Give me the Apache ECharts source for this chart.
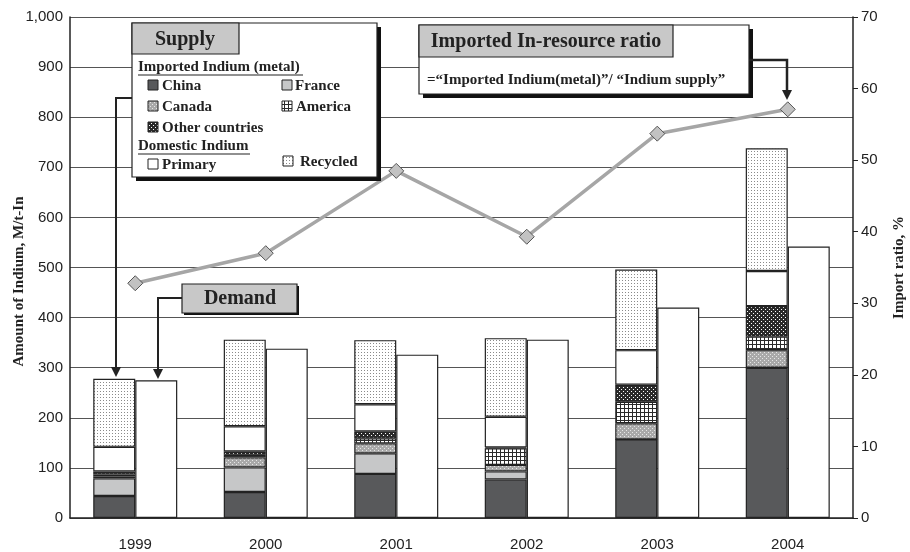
<!DOCTYPE html>
<html>
<head>
<meta charset="utf-8">
<script src="https://cdn.jsdelivr.net/npm/echarts@6/dist/echarts.min.js"></script>
<style>
html, body { margin: 0; padding: 0; background: #fff; }
#chart { width: 910px; height: 552px; }
</style>
</head>
<body>
<div id="chart"></div>
<script>
// values (M/t-In and %)
var years = ['1999', '2000', '2001', '2002', '2003', '2004'];
var china = [44, 52, 88, 77, 157, 300];
var france = [35, 49, 41, 16, 0, 0];
var canada = [4, 20, 20, 13, 32, 35];
var america = [4, 5, 10, 33, 43, 27];
var others = [6, 7, 14, 2, 34, 61];
var primary = [49, 50, 54, 61, 69, 70];
var recycled = [136, 173, 128, 157, 161, 245];
var demand = [275, 338, 326, 356, 420, 542];
var importRatio = [32.8, 37.0, 48.5, 39.3, 53.7, 57.1];

var SERIF = '"Liberation Serif", "DejaVu Serif", serif';
var SANS = '"Liberation Sans", Arial, sans-serif';

// small canvas tiles for the hatched fills
function tile(w, h, paint) {
    var c = document.createElement('canvas');
    c.width = w; c.height = h;
    paint(c.getContext('2d'));
    return {image: c, repeat: 'repeat'};
}
var fills = {
    china: '#58595b',
    france: '#c6c7c8',
    canada: tile(4, 4, function (g) {
        g.fillStyle = '#a9a9a9'; g.fillRect(0, 0, 4, 4);
        g.fillStyle = '#e6e6e6'; g.fillRect(0, 0, 1, 1); g.fillRect(2, 2, 1, 1);
    }),
    america: tile(4, 4, function (g) {
        g.fillStyle = '#fff'; g.fillRect(0, 0, 4, 4);
        g.fillStyle = '#2a2a2a'; g.fillRect(0, 0, 4, 1); g.fillRect(0, 0, 1, 4);
    }),
    others: tile(4, 4, function (g) {
        g.fillStyle = '#2a2a2a'; g.fillRect(0, 0, 4, 4);
        g.fillStyle = '#fff'; g.fillRect(1, 1, 1, 1); g.fillRect(3, 3, 1, 1);
    }),
    primary: '#ffffff',
    recycled: tile(3, 3, function (g) {
        g.fillStyle = '#fff'; g.fillRect(0, 0, 3, 3);
        g.fillStyle = '#8a8a8a'; g.fillRect(1, 1, 1, 1);
    })
};

function supplyBar(name, data, fill) {
    return {
        name: name, type: 'bar', stack: 'supply', data: data,
        barWidth: 42, barGap: 0,
        itemStyle: {color: fill, borderColor: '#222', borderWidth: 1.2}
    };
}

var series = [
    supplyBar('China', china, fills.china),
    supplyBar('France', france, fills.france),
    supplyBar('Canada', canada, fills.canada),
    supplyBar('America', america, fills.america),
    supplyBar('Other countries', others, fills.others),
    supplyBar('Primary', primary, fills.primary),
    supplyBar('Recycled', recycled, fills.recycled),
    {
        name: 'Demand', type: 'bar', data: demand, barWidth: 42, barGap: 0,
        itemStyle: {color: '#fff', borderColor: '#222', borderWidth: 1.2}
    },
    {
        name: 'Import ratio', type: 'line', yAxisIndex: 1, data: importRatio, z: 5,
        symbol: 'diamond', symbolSize: 15,
        lineStyle: {color: '#a6a6a6', width: 3.5},
        itemStyle: {color: '#c2c2c2', borderColor: '#555', borderWidth: 1}
    }
];

// annotation boxes, legend and arrows
function txt(x, y, s, size, align) {
    return {type: 'text', z: 110, style: {x: x, y: y, text: s, fill: '#222',
        font: 'bold ' + (size || 15) + 'px ' + SERIF,
        textAlign: align || 'left', textVerticalAlign: 'middle'}};
}
function box(x, y, w, h, fill, shadow) {
    var out = [];
    if (shadow) out.push({type: 'rect', z: 100, shape: {x: x + shadow, y: y + shadow, width: w, height: h}, style: {fill: '#111'}});
    out.push({type: 'rect', z: 101, shape: {x: x, y: y, width: w, height: h}, style: {fill: fill, stroke: '#222', lineWidth: 1.2}});
    return out;
}
function swatch(x, y, fill) {
    return {type: 'rect', z: 110, shape: {x: x, y: y, width: 10, height: 10}, style: {fill: fill, stroke: '#222', lineWidth: 1}};
}
function uline(x1, x2, y) {
    return {type: 'line', z: 110, shape: {x1: x1, y1: y, x2: x2, y2: y}, style: {stroke: '#222', lineWidth: 1.2}};
}
function arrow(pts, w) {
    var end = pts[pts.length - 1];
    var poly = pts.slice(0, -1).concat([[end[0], end[1] - 8]]);
    return [
        {type: 'polyline', z: 105, shape: {points: poly}, style: {stroke: '#222', lineWidth: w || 2, fill: null}},
        {type: 'polygon', z: 105, shape: {points: [[end[0] - 5, end[1] - 10], [end[0] + 5, end[1] - 10], [end[0], end[1]]]}, style: {fill: '#222'}}
    ];
}

var graphics = [].concat(
    arrow([[132, 98], [116, 98], [116, 377]]),
    arrow([[182, 298], [158, 298], [158, 379]]),
    arrow([[749, 60], [787, 60], [787, 100]], 2.5),
    box(132, 23, 245, 154, '#fff', 4),
    box(132, 23, 107, 31, '#c8c8c8', 0),
    [txt(185, 40, 'Supply', 20, 'center'),
     txt(138, 67, 'Imported Indium (metal)'), uline(138, 303, 75),
     swatch(148, 80, fills.china), txt(162, 86, 'China'),
     swatch(282, 80, fills.france), txt(295, 86, 'France'),
     swatch(148, 101, fills.canada), txt(162, 107, 'Canada'),
     swatch(282, 101, fills.america), txt(296, 107, 'America'),
     swatch(148, 122, fills.others), txt(162, 128, 'Other countries'),
     txt(138, 146, 'Domestic Indium'), uline(138, 250, 154),
     swatch(148, 159, fills.primary), txt(162, 165, 'Primary'),
     swatch(283, 156, fills.recycled), txt(300, 162, 'Recycled')],
    box(419, 25, 330, 69, '#fff', 4),
    box(419, 25, 254, 32, '#c8c8c8', 0),
    [txt(546, 42, 'Imported In-resource ratio', 20, 'center'),
     txt(427, 80, '=\u201cImported Indium(metal)\u201d/ \u201cIndium supply\u201d')],
    box(182, 284, 115, 29, '#c8c8c8', 2),
    [txt(240, 299, 'Demand', 20, 'center')]
);

var myChart = echarts.init(document.getElementById('chart'));
myChart.setOption({
    animation: false,
    backgroundColor: '#fff',
    grid: {left: 70, right: 57, top: 17, bottom: 34, outerBoundsMode: 'none'},
    xAxis: {
        type: 'category', data: years,
        axisLine: {lineStyle: {color: '#222', width: 1.5}},
        axisTick: {inside: true, length: 5, lineStyle: {color: '#222'}},
        axisLabel: {color: '#222', fontSize: 15, fontFamily: SANS, margin: 19}
    },
    yAxis: [
        {
            type: 'value', min: 0, max: 1000, interval: 100,
            name: 'Amount of Indium, M/t-In', nameLocation: 'middle', nameGap: 43,
            nameMoveOverlap: false,
            nameTextStyle: {color: '#222', fontSize: 15, fontWeight: 'bold', fontFamily: SERIF, padding: [0, 28, 0, 0]},
            axisLine: {show: true, lineStyle: {color: '#222', width: 1.5}},
            axisTick: {show: false},
            axisLabel: {color: '#222', fontSize: 15, fontFamily: SANS, margin: 7,
                formatter: function (v) { return v.toLocaleString('en-US'); }},
            splitLine: {lineStyle: {color: '#555', width: 1.2}}
        },
        {
            type: 'value', min: 0, max: 70, interval: 10,
            name: 'Import ratio, %', nameLocation: 'middle', nameGap: 39, nameRotate: 90,
            nameMoveOverlap: false,
            nameTextStyle: {color: '#222', fontSize: 15, fontWeight: 'bold', fontFamily: SERIF},
            axisLine: {show: true, lineStyle: {color: '#222', width: 1.5}},
            axisTick: {show: true, length: 5, lineStyle: {color: '#222'}},
            axisLabel: {color: '#222', fontSize: 15, fontFamily: SANS, margin: 8},
            splitLine: {show: false}
        }
    ],
    series: series,
    graphic: graphics
});
</script>
</body>
</html>
